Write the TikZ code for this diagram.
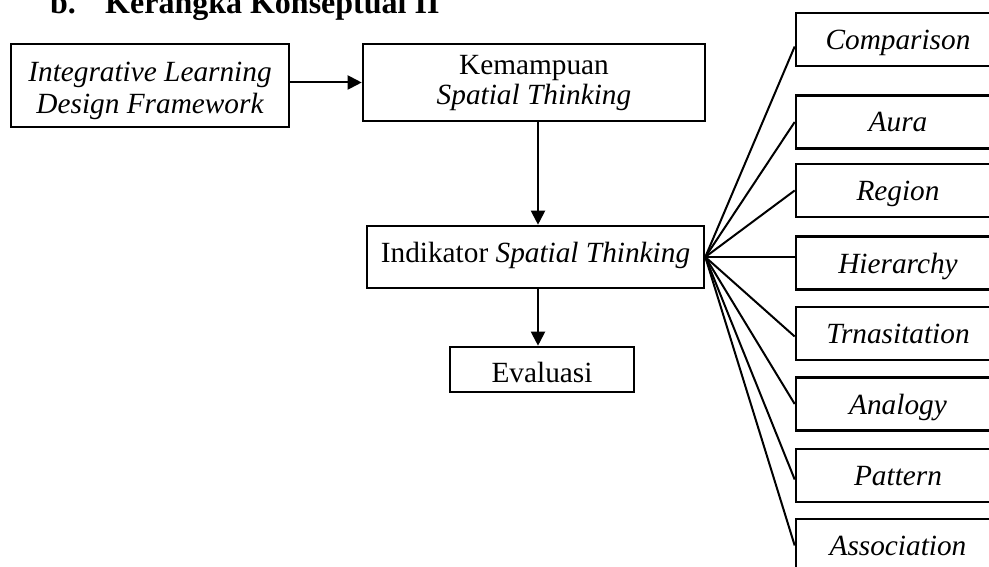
\documentclass[tikz,border=0pt]{standalone}
\usepackage{fontspec}
\setmainfont{Liberation Serif}
\usetikzlibrary{arrows.meta}
\newcommand{\lowr}[2]{\raisebox{-#1}[\height][\depth]{#2}}
\begin{document}
\begin{tikzpicture}[x=1pt,y=-1pt,
  every node/.style={inner sep=0pt,font=\fontsize{29.3}{32}\selectfont},
  box/.style={draw,line width=2.6pt,align=center},
  rbox/.style={box,minimum width=204pt,minimum height=53pt,text height=26pt,text depth=6pt,font=\fontsize{29.3}{32}\selectfont\itshape},
  arr/.style={line width=2pt,-{Triangle[length=14pt,width=14pt]}},
  fan/.style={line width=2pt},
  titlefont/.style={font=\fontsize{32}{36}\selectfont\bfseries}]
\useasboundingbox (0,0) rectangle (989,567);
\clip (0,0) rectangle (989,567);
\node[anchor=base west,titlefont] (tb) at (50,13.5) {b.};
\node[anchor=base west,titlefont] (tt) at (105,13.5) {Kerangka Konseptual II};
\node[box,minimum width=278pt,minimum height=83pt] (ildf) at (150,85.5) {\lowr{5.7pt}{\itshape Integrative Learning}\\[0pt]\lowr{5.7pt}{\itshape Design Framework}};
\node[box,minimum width=342pt,minimum height=77pt] (kem) at (534,82.5) {\lowr{0.5pt}{Kemampuan}\\[-2pt]\lowr{0.5pt}{\itshape Spatial Thinking}};
\node[box,minimum width=337pt,minimum height=62pt,text height=16pt,text depth=6pt] (ind) at (535.5,257) {Indikator \textit{Spatial Thinking}};
\node[box,minimum width=184pt,minimum height=45pt,text height=31pt,text depth=6pt] (eva) at (542,369.5) {Evaluasi};
\node[rbox] (c1) at (898,39.5) {Comparison};
\node[rbox] (c2) at (898,122) {Aura};
\node[rbox] (c3) at (898,190.5) {Region};
\node[rbox] (c4) at (898,263) {Hierarchy};
\node[rbox] (c5) at (898,333.5) {Trnasitation};
\node[rbox] (c6) at (898,404) {Analogy};
\node[rbox] (c7) at (898,475.5) {Pattern};
\node[rbox] (c8) at (898,545.5) {Association};
\draw[arr] (ildf.east |- kem.west) -- (kem.west);
\draw[arr] ([xshift=4pt]kem.south) -- ([xshift=4pt]kem.south |- ind.north);
\draw[arr] ([xshift=2.5pt]ind.south) -- ([xshift=2.5pt]ind.south |- eva.north);
\draw[fan] (ind.east) -- ([yshift=-7pt]c1.west);
\draw[fan] (ind.east) -- (c2.west);
\draw[fan] (ind.east) -- (c3.west);
\draw[fan] (ind.east) -- (ind.east -| c4.west);
\draw[fan] (ind.east) -- ([yshift=-3pt]c5.west);
\draw[fan] (ind.east) -- (c6.west);
\draw[fan] (ind.east) -- ([yshift=-4pt]c7.west);
\draw[fan] (ind.east) -- (c8.west);
\end{tikzpicture}
\end{document}
